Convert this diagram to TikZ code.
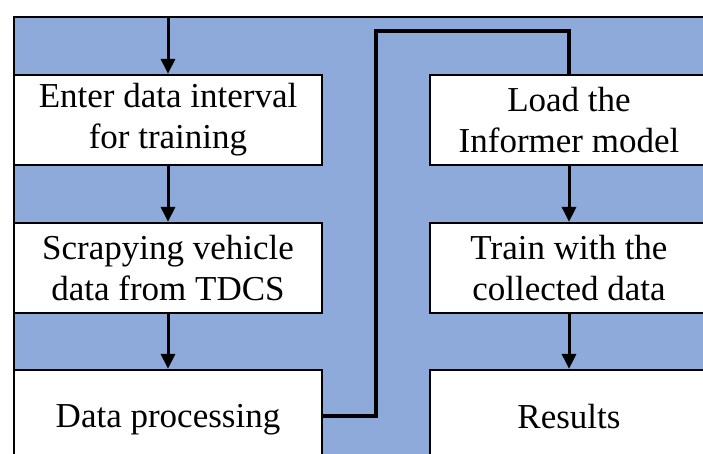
\documentclass[tikz,border=0pt]{standalone}
\usepackage{fontspec}
\setmainfont{Liberation Serif}
\usetikzlibrary{arrows.meta}
\definecolor{bgblue}{HTML}{8EAADB}
\begin{document}
\begin{tikzpicture}[x=1pt,y=-1pt,
  stepbox/.style={draw=black,line width=2.2pt,fill=white,align=center,
    font=\fontsize{35}{41}\selectfont,inner sep=0pt},
  flow/.style={draw=black,line width=3pt,-{Triangle[length=15pt,width=14pt]}},
  route/.style={draw=black,line width=3.4pt}]
\useasboundingbox (0,0) rectangle (703,454);
\begin{scope}
\clip (0,0) rectangle (703,454);
\fill[white] (0,0) rectangle (703,454);
\draw[fill=bgblue,line width=1.8pt] (14,17) rectangle (760,520);
\node[stepbox,minimum width=308pt,minimum height=90pt] (b1) at (168,120) {Enter data interval\\for training};
\node[stepbox,minimum width=308pt,minimum height=90pt] (b2) at (168,268) {Scrapying vehicle\\data from TDCS};
\node[stepbox,minimum width=308pt,minimum height=100pt] (b3) at (168,420) {Data processing\vphantom{Dg}};
\node[stepbox,minimum width=278pt,minimum height=90pt] (b4) at (569,120) {Load the\\Informer model};
\node[stepbox,minimum width=278pt,minimum height=90pt] (b5) at (569,268) {Train with the\\collected data};
\node[stepbox,minimum width=278pt,minimum height=100pt] (b6) at (569,420) {Results\vphantom{Dg}};
\coordinate (top) at (168,17);
\coordinate (c1) at (376,31);
\draw[flow] (top) -- (b1.north);
\draw[flow] (b1.south) -- (b2.north);
\draw[flow] (b2.south) -- (b3.north);
\draw[flow] (b4.south) -- (b5.north);
\draw[flow] (b5.south) -- (b6.north);
\draw[route] ([yshift=4pt]b3.east) -| (c1) -| (b4.north);
\end{scope}
\end{tikzpicture}
\end{document}
